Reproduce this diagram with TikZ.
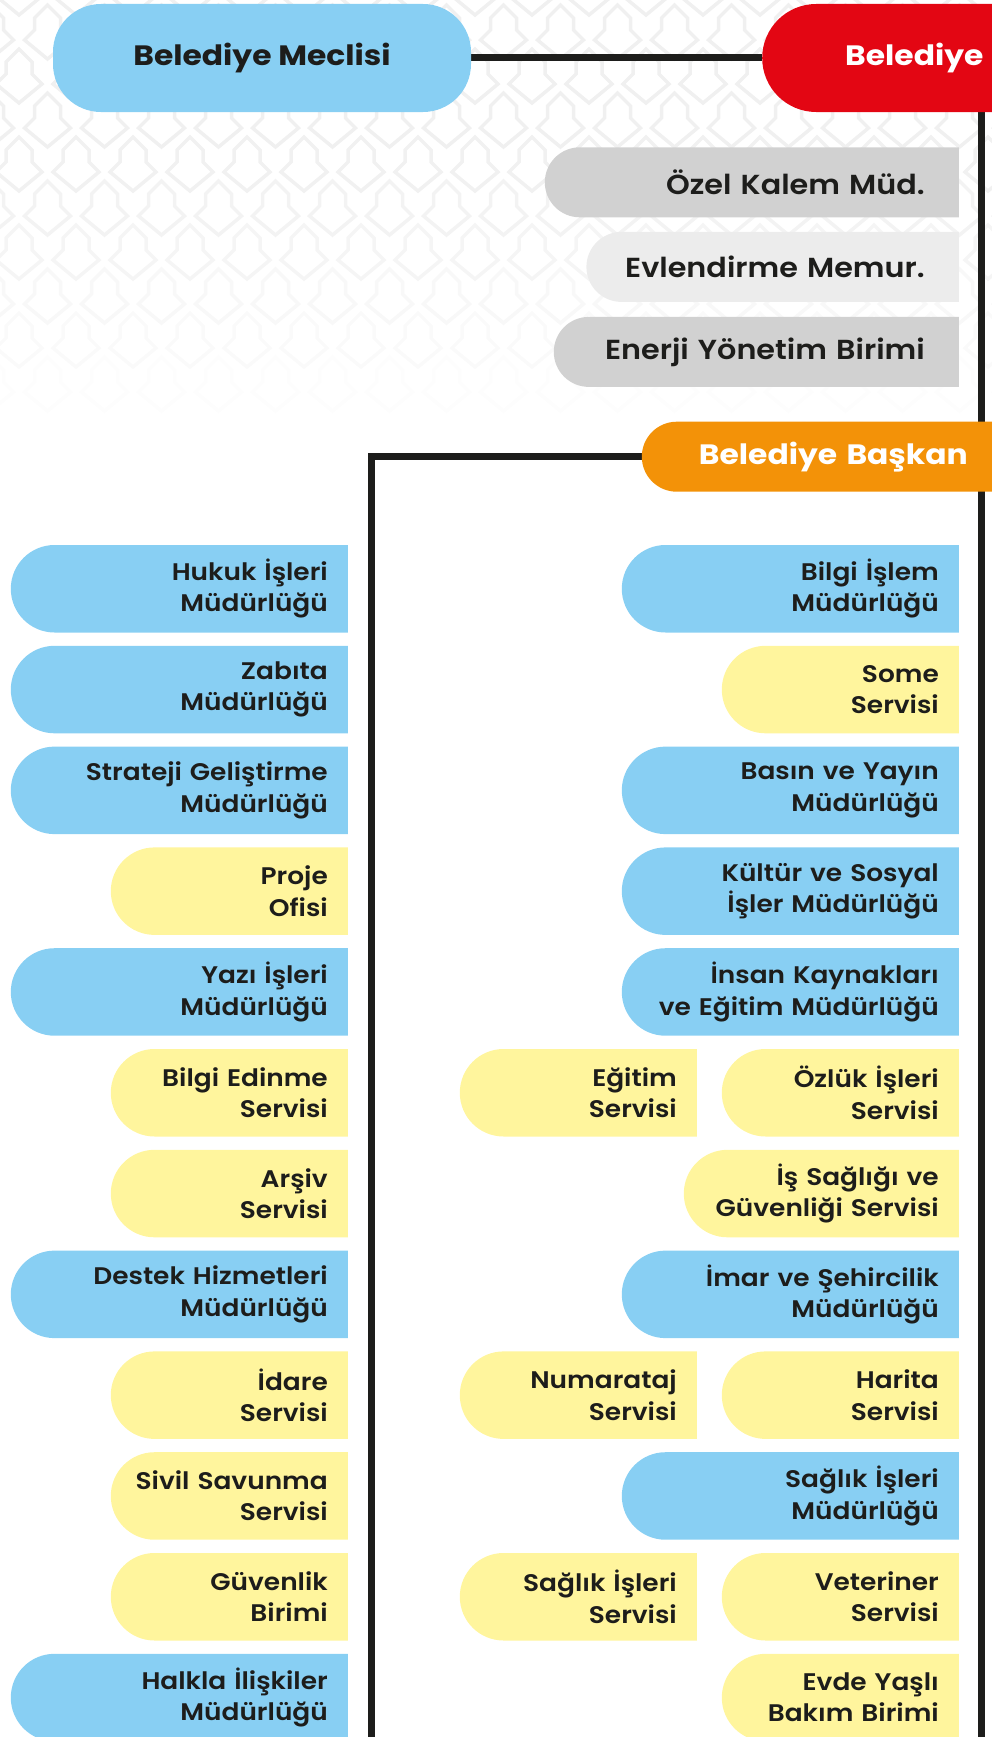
\documentclass[tikz,border=0pt]{standalone}
\usepackage{fontspec}
\setmainfont{Poppins}
\newfontfamily\unitfont{Poppins SemiBold}[FakeStretch=1.1]
\newfontfamily\headfont{Poppins Bold}[FakeStretch=1.12]
\usetikzlibrary{calc}
\pgfdeclarelayer{background}
\pgfsetlayers{background,main}
\definecolor{unitblue}{HTML}{88CFF3}
\definecolor{unityellow}{HTML}{FFF59D}
\definecolor{headred}{HTML}{E30613}
\definecolor{headorange}{HTML}{F39208}
\definecolor{staffgray}{HTML}{D1D1D1}
\definecolor{stafflight}{HTML}{ECECEC}
\definecolor{linedark}{HTML}{1D1D1B}
\tikzset{leftpill/.style 2 args={path picture={\fill[#1] (path picture bounding box.north east) -- ([xshift=#2]path picture bounding box.north west) arc[start angle=90,end angle=270,radius=#2] -- (path picture bounding box.south east) -- cycle;}}}
\tikzstyle{unit}=[rectangle,anchor=east,inner xsep=20pt,inner ysep=0pt,minimum height=87.5pt,align=right,text=linedark,font=\unitfont\fontsize{24pt}{31.3pt}\selectfont]
\tikzstyle{head unit}=[unit,text width=297pt,leftpill={unitblue}{43.75pt}]
\tikzstyle{sub unit}=[unit,text width=197pt,leftpill={unityellow}{43.75pt}]
\tikzstyle{wide unit}=[unit,text width=235pt,leftpill={unityellow}{43.75pt}]
\tikzstyle{staff}=[rectangle,anchor=east,inner xsep=34pt,inner ysep=0pt,minimum height=70pt,align=right,text=linedark,font=\unitfont\fontsize{27.5pt}{32pt}\selectfont]
\tikzstyle{head}=[rectangle,inner ysep=0pt,font=\headfont\fontsize{28pt}{34pt}\selectfont]
\tikzstyle{edge}=[draw,line width=7pt,linedark]
\tikzstyle{tile}=[line width=3.5pt,black!6,line join=miter]

\begin{document}
\begin{tikzpicture}[x=1pt,y=1pt]
    \useasboundingbox (0,0) rectangle (991,-1737);
    % Background pattern, fading out downwards
    \begin{pgfonlayer}{background}
    \foreach \j in {0,...,10}
        \foreach \i in {-1,...,17} {
            \pgfmathsetmacro\cx{19+57*\i+28.5*mod(\j,2)}
            \pgfmathsetmacro\cy{-12+44*\j}
            \pgfmathsetmacro\op{min(1,max(0,(430-\cy)/280))}
            \draw[tile,opacity=\op,shift={(\cx,-\cy)}] (0,27) -- (13,14) -- (13,2) -- (23,-8) -- (0,-27) -- (-23,-8) -- (-13,2) -- (-13,14) -- cycle;
        }
    \end{pgfonlayer}

    % Top of the chart
    \node[head,fill=unitblue,rounded corners=48pt,minimum width=418pt,minimum height=108pt,text=linedark] (meclis) at (262,-58) {Belediye Meclisi};
    \node[head,anchor=west,text width=200pt,align=left,inner xsep=83pt,minimum height=108pt,text=white,leftpill={headred}{54pt}] (belediye) at (762,-58) {Belediye};
    \node[staff,text width=346pt,leftpill={staffgray}{35pt}] (ozelkalem) at (959,-182.3) {Özel Kalem Müd.};
    \node[staff,text width=304.4pt,leftpill={stafflight}{35pt}] (evlendirme) at (959,-266.9) {Evlendirme Memur.};
    \node[staff,text width=337pt,leftpill={staffgray}{35pt}] (enerji) at (959,-351.9) {Enerji Yönetim Birimi};
    \node[head,anchor=east,text width=294pt,align=right,inner xsep=32pt,minimum height=70pt,text=white,leftpill={headorange}{35pt}] (baskan) at (1000,-456.7) {Belediye Başkan};

    % Left column
    \foreach \row/\name/\txt in {1/hukuk/{Hukuk İşleri\\Müdürlüğü}, 2/zabita/{Zabıta\\Müdürlüğü}, 3/strateji/{Strateji Geliştirme\\Müdürlüğü}, 5/yazi/{Yazı İşleri\\Müdürlüğü}, 8/destek/{Destek Hizmetleri\\Müdürlüğü}, 12/halkla/{Halkla İlişkiler\\Müdürlüğü}}
        \node[head unit] (\name) at (348,{-588.75-(\row-1)*100.8}) {\txt};
    \foreach \row/\name/\txt in {4/proje/{Proje\\Ofisi}, 6/edinme/{Bilgi Edinme\\Servisi}, 7/arsiv/{Arşiv\\Servisi}, 9/idare/{İdare\\Servisi}, 10/sivil/{Sivil Savunma\\Servisi}, 11/guvenlik/{Güvenlik\\Birimi}}
        \node[sub unit] (\name) at (348,{-588.75-(\row-1)*100.8}) {\txt};

    % Right column
    \foreach \row/\name/\txt in {1/bilgiislem/{Bilgi İşlem\\Müdürlüğü}, 3/basin/{Basın ve Yayın\\Müdürlüğü}, 4/kultur/{Kültür ve Sosyal\\İşler Müdürlüğü}, 5/insan/{İnsan Kaynakları\\ve Eğitim Müdürlüğü}, 8/imar/{İmar ve Şehircilik\\Müdürlüğü}, 10/saglik/{Sağlık İşleri\\Müdürlüğü}}
        \node[head unit] (\name) at (959,{-588.75-(\row-1)*100.8}) {\txt};
    \foreach \row/\name/\txt in {2/some/{Some\\Servisi}, 6/ozluk/{Özlük İşleri\\Servisi}, 9/harita/{Harita\\Servisi}, 11/veteriner/{Veteriner\\Servisi}, 12/evde/{Evde Yaşlı\\Bakım Birimi}}
        \node[sub unit] (\name) at (959,{-588.75-(\row-1)*100.8}) {\txt};
    \foreach \row/\name/\txt in {6/egitim/{Eğitim\\Servisi}, 9/numarataj/{Numarataj\\Servisi}, 11/saglikservis/{Sağlık İşleri\\Servisi}}
        \node[sub unit] (\name) at (697,{-588.75-(\row-1)*100.8}) {\txt};
    \node[wide unit] (isguvenligi) at (959,{-588.75-6*100.8}) {İş Sağlığı ve\\Güvenliği Servisi};

    % Connect the boxes
    \coordinate (rbot) at (981,-1737);
    \coordinate (lbot) at (371,-1737);
    \begin{pgfonlayer}{background}
        \path[edge] (meclis) -- (belediye);
        \path[edge] (rbot |- belediye) -- (rbot);
        \path[edge] (baskan.west) -| (lbot);
    \end{pgfonlayer}
\end{tikzpicture}
\end{document}
